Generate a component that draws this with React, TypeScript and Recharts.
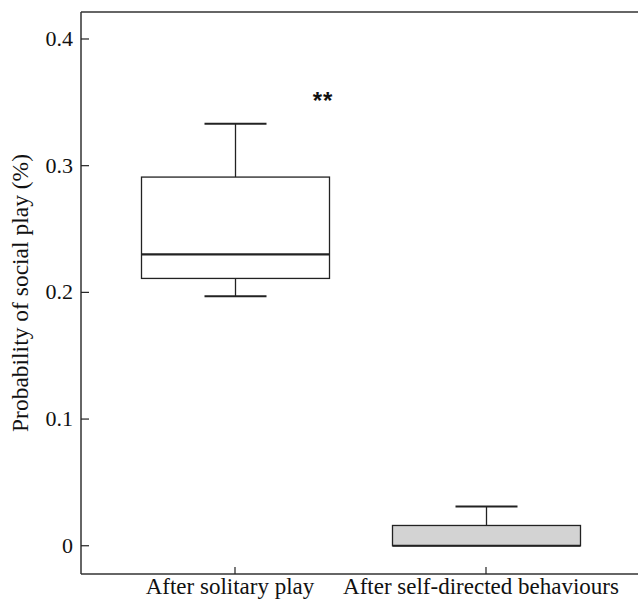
import { ComposedChart, Bar, XAxis, YAxis, ReferenceLine, ReferenceDot } from 'recharts';

const categories = ['After solitary play', 'After self-directed behaviours'];
const lowWhisker = [0.197, 0];
const lowerQuartile = [0.211, 0];
const medians = [0.23, 0];
const upperQuartile = [0.291, 0.016];
const highWhisker = [0.333, 0.031];
const boxFills = ['#ffffff', '#d3d3d3'];
const yTicks = [0, 0.1, 0.2, 0.3, 0.4];
const yDomain = [-0.0223, 0.4213];

const data = categories.map((name, i) => ({
  name,
  min: lowWhisker[i],
  q1: lowerQuartile[i],
  median: medians[i],
  q3: upperQuartile[i],
  max: highWhisker[i],
  fill: boxFills[i],
}));

const serif = { fontFamily: "'Liberation Serif', 'DejaVu Serif', serif" };
const ink = '#222';

// box drawn from the range bar [q1, q3]; other values use the same px/unit
function BoxShape(props: any) {
  const { x, y, width, height, payload } = props;
  const k = height / (payload.q3 - payload.q1);
  const toY = (v: number) => y + (payload.q3 - v) * k;
  const cx = x + width / 2;
  const capHalf = 31;
  return (
    <g>
      {payload.max > payload.q3 && (
        <>
          <line x1={cx} x2={cx} y1={toY(payload.max)} y2={toY(payload.q3)} stroke={ink} strokeWidth={1.3} />
          <line x1={cx - capHalf} x2={cx + capHalf} y1={toY(payload.max)} y2={toY(payload.max)} stroke={ink} strokeWidth={2} />
        </>
      )}
      {payload.min < payload.q1 && (
        <>
          <line x1={cx} x2={cx} y1={toY(payload.q1)} y2={toY(payload.min)} stroke={ink} strokeWidth={1.3} />
          <line x1={cx - capHalf} x2={cx + capHalf} y1={toY(payload.min)} y2={toY(payload.min)} stroke={ink} strokeWidth={2} />
        </>
      )}
      <rect x={x} y={y} width={width} height={height} fill={payload.fill} stroke={ink} strokeWidth={1.3} />
      <line x1={x} x2={x + width} y1={toY(payload.median)} y2={toY(payload.median)} stroke={ink} strokeWidth={2.2} />
    </g>
  );
}

function YTick(props: any) {
  const { x, y, payload } = props;
  const v = payload.value;
  return (
    <g>
      <line x1={x} x2={x + 8} y1={y} y2={y} stroke={ink} strokeWidth={1.2} />
      <text x={x - 8} y={y} dy={7} textAnchor="end" style={serif} fontSize={22} fill="#111">
        {v === 0 ? '0' : v.toFixed(1)}
      </text>
    </g>
  );
}

function XTick(props: any) {
  const { x, y, payload } = props;
  return (
    <g>
      <line x1={x} x2={x} y1={y} y2={y - 7} stroke={ink} strokeWidth={1.2} />
      <text x={x - 5} y={y + 20} textAnchor="middle" style={serif} fontSize={23} fill="#111">
        {payload.value}
      </text>
    </g>
  );
}

function YLabel(props: any) {
  const { viewBox } = props;
  const cx = viewBox.x + 28;
  const cy = viewBox.y + viewBox.height / 2;
  return (
    <text x={cx} y={cy} transform={`rotate(-90 ${cx} ${cy})`} textAnchor="middle" style={serif} fontSize={23.5} fill="#111">
      Probability of social play (%)
    </text>
  );
}

function Stars(props: any) {
  const { viewBox } = props;
  return (
    <text
      x={viewBox.x + 88}
      y={viewBox.y + 10}
      textAnchor="middle"
      style={{ fontFamily: "'Liberation Sans', Arial, sans-serif" }}
      fontWeight="bold"
      fontSize={24}
      letterSpacing={1}
      fill="#111"
    >
      **
    </text>
  );
}

export default function App() {
  return (
    <div style={{ position: 'absolute', left: 0, top: 0 }}>
      <ComposedChart width={638} height={600} data={data} margin={{ top: 12, right: 0, bottom: 0, left: 0 }}>
        <XAxis
          dataKey="name"
          height={26}
          padding={{ left: 28.5, right: 26.5 }}
          axisLine={{ stroke: '#333', strokeWidth: 1.5 }}
          tickLine={false}
          tickSize={0}
          tickMargin={0}
          tick={<XTick />}
          interval={0}
        />
        <YAxis
          type="number"
          domain={yDomain}
          ticks={yTicks}
          width={81}
          allowDataOverflow
          axisLine={{ stroke: '#333', strokeWidth: 1.5 }}
          tickLine={false}
          tickSize={0}
          tickMargin={0}
          tick={<YTick />}
          label={<YLabel />}
        />
        <ReferenceLine y={yDomain[1]} stroke="#333" strokeWidth={1.5} />
        <Bar
          dataKey={(d: any) => [d.q1, d.q3]}
          barSize={188}
          shape={<BoxShape />}
          isAnimationActive={false}
        />
        <ReferenceDot x={categories[0]} y={0.353} r={0} fill="none" stroke="none" label={<Stars />} />
      </ComposedChart>
    </div>
  );
}
